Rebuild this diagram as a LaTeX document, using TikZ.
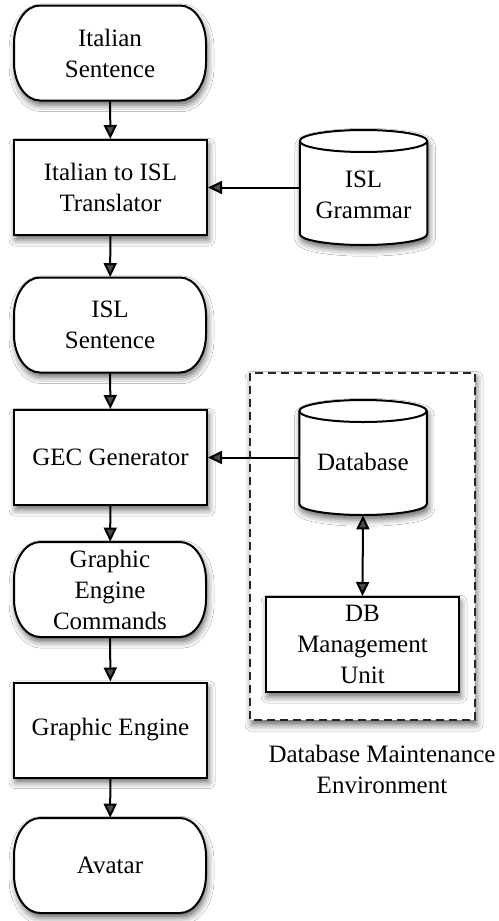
\documentclass[tikz,border=0pt]{standalone}
\usepackage{fontspec}
\setmainfont{Liberation Serif}
\usetikzlibrary{arrows.meta,shadows.blur}

\tikzset{
  lbl/.style={font=\fontsize{12.5}{15.5}\selectfont, align=center, text=black, inner sep=0pt},
  softshadow/.style={blur shadow={shadow xshift=0.8pt, shadow yshift=-2.4pt,
      shadow blur radius=3.2pt, shadow opacity=60}},
  outline/.style={draw=black, line width=1pt, fill=white, softshadow},
  procbox/.style={lbl, outline, minimum width=96.5pt, minimum height=47.5pt},
  termbox/.style={lbl, minimum width=96pt, minimum height=47.5pt},
  cylbox/.style={minimum width=63.75pt, minimum height=57.5pt, inner sep=0pt},
  conn/.style={line width=1pt, -{Triangle[length=7pt,width=6.5pt]}},
  biconn/.style={line width=1pt, {Triangle[length=7pt,width=6.5pt]}-{Triangle[length=7pt,width=6.5pt]}},
  groupbox/.style={draw=black!85, line width=1pt, dash pattern=on 4pt off 2.5pt,
      fill=white, softshadow},
}

% terminal shape centred at (#1,#2): rectangle with elliptical corners
\newcommand\termoutline[2]{%
  \path[outline] (#1,#2) ++(-35pt,23.75pt) -- ++(70pt,0)
    arc[start angle=90,end angle=0,x radius=13pt,y radius=19pt]
    -- ++(0,-9.5pt)
    arc[start angle=0,end angle=-90,x radius=13pt,y radius=19pt]
    -- ++(-70pt,0)
    arc[start angle=270,end angle=180,x radius=13pt,y radius=19pt]
    -- ++(0,9.5pt)
    arc[start angle=180,end angle=90,x radius=13pt,y radius=19pt] -- cycle;}

% database cylinder centred at (#1,#2)
\newcommand\cyloutline[2]{%
  \path[outline] (#1,#2) ++(-31.875pt,23.25pt) -- ++(0,-46.5pt)
    arc[start angle=180,end angle=360,x radius=31.875pt,y radius=5.5pt]
    -- ++(0,46.5pt)
    arc[start angle=0,end angle=180,x radius=31.875pt,y radius=5.5pt] -- cycle;
  \draw[line width=1pt] (#1,#2) ++(-31.875pt,23.25pt)
    arc[start angle=180,end angle=360,x radius=31.875pt,y radius=5.5pt];}

\begin{document}
\begin{tikzpicture}[x=0.5pt,y=-0.5pt]
  \useasboundingbox[fill=white] (0,0) rectangle (498,921);

  % outlines of the rounded and cylindrical shapes
  \path[groupbox] (250,373) rectangle (475,720);
  \termoutline{110}{53}
  \termoutline{110}{325}
  \termoutline{110}{589.5}
  \termoutline{110}{865.5}
  \cyloutline{363.5}{187.5}
  \cyloutline{363}{457.5}

  % main pipeline
  \node[termbox] (isent)  at (110,53)      {Italian\\Sentence};
  \node[procbox] (trans)  at (110.5,187.5) {Italian to ISL\\Translator};
  \node[termbox] (lsent)  at (110,325)     {ISL\\Sentence};
  \node[procbox] (gec)    at (110.5,457.5) {GEC Generator};
  \node[termbox] (gcmd)   at (110,589.5)   {Graphic\\Engine\\Commands};
  \node[procbox] (geng)   at (110.5,730)   {Graphic Engine};
  \node[termbox] (avatar) at (110,865.5)   {Avatar};

  % grammar store
  \node[cylbox] (gram) at (363.5,187.5) {};
  \node[lbl] (gramtext) at ([yshift=-3.75pt]gram.center) {ISL\\Grammar};

  % maintenance environment
  \node[cylbox] (db) at (363,457.5) {};
  \node[lbl] (dbtext) at ([yshift=-2pt]db.center) {Database};
  \node[procbox] (dbmu) at (362.5,644.5) {DB\\Management\\Unit};
  \node[lbl, anchor=north] (envlbl) at (382,745) {Database Maintenance\\Environment};

  % connectors
  \draw[conn] (isent) -- (trans);
  \draw[conn] (trans) -- (lsent);
  \draw[conn] (lsent) -- (gec);
  \draw[conn] (gec) -- (gcmd);
  \draw[conn] (gcmd) -- (geng);
  \draw[conn] (geng) -- (avatar);
  \draw[conn] (gram.west) -- (trans.east);
  \draw[conn] (db.west) -- (gec.east);
  \draw[biconn] (db.south) -- (dbmu.north);
\end{tikzpicture}
\end{document}
